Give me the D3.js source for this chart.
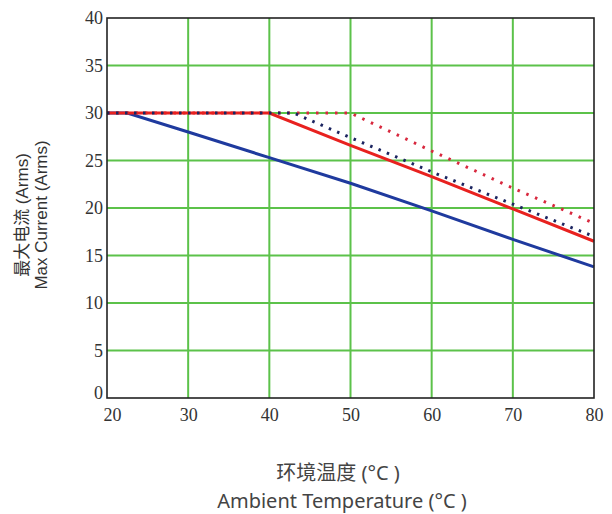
<!DOCTYPE html>
<html>
<head>
<meta charset="utf-8">
<script src="https://cdn.jsdelivr.net/npm/d3@7"></script>
<style>
  body { margin: 0; background: #fff; }
  .tick text { font-family: "Liberation Serif", "DejaVu Serif", serif; }
</style>
</head>
<body>
<div id="chart"></div>
<script>
// derating curves, temperature (C) vs max current (Arms)
var xTicks = [20, 30, 40, 50, 60, 70, 80];
var yTicks = [0, 5, 10, 15, 20, 25, 30, 35, 40];

var blueSolid = [[20, 30], [22.5, 30], [30, 28.0], [40, 25.3], [50, 22.6], [60, 19.7], [70, 16.7], [80, 13.8]];
var redSolid = [[20, 30], [40, 30], [50, 26.6], [60, 23.3], [70, 19.9], [80, 16.5]];
var navyDotted = [[20, 30], [43, 30], [50, 27.4], [60, 23.8], [70, 20.4], [80, 17.0]];
var redDotted = [[20, 30], [50, 30], [60, 26.0], [70, 22.1], [80, 18.4]];

var W = 612, H = 514;
var margin = { left: 107, top: 18, right: 18, bottom: 116 };

var svg = d3.select("#chart").append("svg").attr("width", W).attr("height", H);

var x = d3.scaleLinear().domain([20, 80]).range([margin.left, W - margin.right]);
var y = d3.scaleLinear().domain([0, 40]).range([H - margin.bottom, margin.top]);

// grid
svg.append("g").selectAll("line").data(xTicks.slice(1, -1)).enter().append("line")
    .attr("x1", function (d) { return x(d); }).attr("x2", function (d) { return x(d); })
    .attr("y1", y(0)).attr("y2", y(40))
    .attr("stroke", "#5cc24a").attr("stroke-width", 2);
svg.append("g").selectAll("line").data(yTicks.slice(1, -1)).enter().append("line")
    .attr("y1", function (d) { return y(d); }).attr("y2", function (d) { return y(d); })
    .attr("x1", x(20)).attr("x2", x(80))
    .attr("stroke", "#5cc24a").attr("stroke-width", 2);

var line = d3.line().x(function (d) { return x(d[0]); }).y(function (d) { return y(d[1]); });

svg.append("path").datum(blueSolid).attr("d", line)
    .attr("fill", "none").attr("stroke", "#1f3a9e").attr("stroke-width", 3);
svg.append("path").datum(redDotted).attr("d", line)
    .attr("fill", "none").attr("stroke", "#d8283e").attr("stroke-width", 3)
    .attr("stroke-dasharray", "2.5,7");
svg.append("path").datum(redSolid).attr("d", line)
    .attr("fill", "none").attr("stroke", "#e8211f").attr("stroke-width", 3);
svg.append("path").datum(navyDotted).attr("d", line)
    .attr("fill", "none").attr("stroke", "#1b2460").attr("stroke-width", 3)
    .attr("stroke-dasharray", "2.5,6.5");

// frame
svg.append("rect").attr("x", x(20)).attr("y", y(40))
    .attr("width", x(80) - x(20)).attr("height", y(0) - y(40))
    .attr("fill", "none").attr("stroke", "#222").attr("stroke-width", 1.6);

// tick labels
var xAxis = d3.axisBottom(x).tickValues(xTicks).tickSize(0).tickPadding(10);
var gx = svg.append("g").attr("transform", "translate(0," + y(0) + ")").call(xAxis)
    .attr("font-family", "Liberation Serif").attr("font-size", 18);
gx.select(".domain").remove();
gx.selectAll("text").attr("fill", "#333")
    .attr("dx", function (d) { return d === 20 ? 5 : 0; });

var yAxis = d3.axisLeft(y).tickValues(yTicks).tickSize(0).tickPadding(4);
var gy = svg.append("g").attr("transform", "translate(" + x(20) + ",0)").call(yAxis)
    .attr("font-family", "Liberation Serif").attr("font-size", 18);
gy.select(".domain").remove();
gy.selectAll("text").attr("fill", "#333")
    .attr("dy", function (d) { return d === 0 ? "0.05em" : "0.32em"; });

// axis titles
var yt = svg.append("g").attr("transform", "translate(0," + 215 + ") rotate(-90)");
yt.append("text").text("最大电流 (Arms)").attr("x", 0).attr("y", 28).attr("text-anchor", "middle")
    .style("font-family", "Liberation Sans, Noto Sans CJK SC").style("font-size", "17px").attr("fill", "#333");
yt.append("text").text("Max Current (Arms)").attr("x", 0).attr("y", 47).attr("text-anchor", "middle")
    .style("font-family", "Liberation Sans").style("font-size", "17px").attr("fill", "#333");

svg.append("text").text("环境温度 (°C )").attr("x", 338).attr("y", 480).attr("text-anchor", "middle")
    .style("font-family", "Noto Sans, Noto Sans CJK SC").style("font-size", "20px").attr("fill", "#444");
svg.append("text").text("Ambient Temperature (°C )").attr("x", 342).attr("y", 508).attr("text-anchor", "middle")
    .style("font-family", "Noto Sans, Noto Sans CJK SC").style("font-size", "20px").attr("fill", "#444");
</script>
</body>
</html>
